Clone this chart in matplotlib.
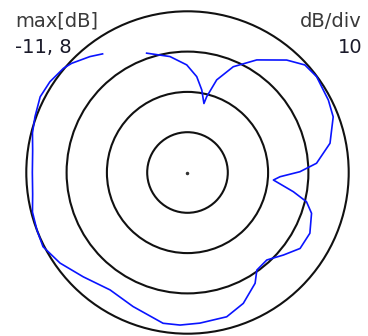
import numpy as np
import matplotlib
matplotlib.use("Agg")
import matplotlib.pyplot as plt
from matplotlib.patches import Circle

# pattern header values
max_db = -11.8
db_div = 10
n_div = 4

# measured pattern: angle (deg, clockwise from top) and level (dB)
angles = [-18.9, -8.6, -0.4, 5.5, 9.8, 13.4, 14.2, 17.5, 23.4, 31.6,
          41.4, 47.5, 53.4, 62.8, 69.1, 78.4, 85.9, 89.6, 92.6, 95.0,
          100.3, 103.8, 108.2, 116.4, 124.0, 130.7, 137.8, 144.6, 148.6, 156.9,
          164.8, 175.3, 182.8, 189.2, 202.1, 213.4, 225.0, 234.6, 242.8, 249.1,
          255.7, 262.0, 270.0, 278.0, 284.3, 290.1, 297.2, 303.4, 310.0, 313.3,
          319.9, 324.4]
levels = [-20.5, -22.7, -25.1, -27.9, -31.0, -34.2, -32.4, -27.7, -23.2, -19.0,
          -14.6, -12.3, -11.9, -12.5, -13.1, -15.7, -19.7, -23.9, -28.8, -30.4,
          -25.1, -21.4, -19.4, -17.9, -18.1, -20.4, -22.5, -22.1, -19.6, -16.5,
          -14.7, -14.3, -13.9, -13.9, -15.9, -16.9, -15.2, -13.0, -11.5, -11.8,
          -12.1, -13.0, -13.3, -13.0, -12.1, -11.5, -10.7, -10.9, -11.6, -12.3,
          -14.2, -15.6]

W, H = 368, 336
dpi = 100
fig = plt.figure(figsize=(W / dpi, H / dpi), dpi=dpi)

r_min = max_db - n_div * db_div
r_max = max_db + 2.0
px_per_db = 4.03
cx, cy = 187.5, 172.5
R = (r_max - r_min) * px_per_db
ax = fig.add_axes([(cx - R) / W, (H - cy - R) / H, 2 * R / W, 2 * R / H],
                  projection="polar")
ax.set_theta_zero_location("N")
ax.set_theta_direction(-1)
ax.set_ylim(r_min, r_max)
ax.set_xticks([])
ax.set_yticks([])
ax.grid(False)
ax.spines["polar"].set_visible(False)
ax.patch.set_alpha(0)

# rings, one per division
for k in range(n_div):
    frac = (max_db - k * db_div - r_min) / (r_max - r_min) / 2
    ax.add_patch(Circle((0.5, 0.5), frac, transform=ax.transAxes, fill=False,
                        ec="#111111", lw=1.5, zorder=2))

ax.plot([0], [r_min], marker="o", ms=1.5, color="#333333", zorder=2)
ax.plot(np.deg2rad(angles), levels, color="#0a14ff", lw=1.2, zorder=3)

txt = f"{max_db:.1f}".replace(".", ", ")
fig.text(15 / W, 1 - 26.7 / H, "max[dB]", fontsize=14, color="#3a3a3a", va="baseline", ha="left")
fig.text(15 / W, 1 - 53.3 / H, txt, fontsize=14, color="#1a1a2a", va="baseline", ha="left")
fig.text(362 / W, 1 - 26.7 / H, "dB/div", fontsize=14, color="#3a3a3a", va="baseline", ha="right")
fig.text(362 / W, 1 - 53.3 / H, str(db_div), fontsize=14, color="#1a1a2a", va="baseline", ha="right")

fig.savefig("out.png", dpi=dpi)
